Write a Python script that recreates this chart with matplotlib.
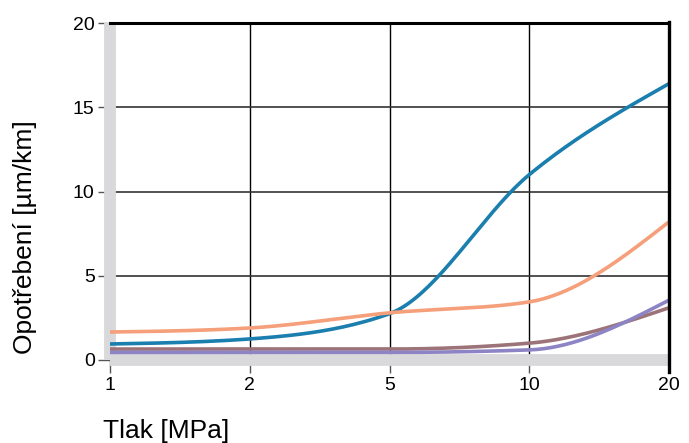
import numpy as np
import matplotlib.pyplot as plt

plt.rcParams['font.family'] = ['Liberation Sans', 'DejaVu Sans']

# data
tlak = ['1', '2', '5', '10', '20']
modra = [0.95, 1.25, 2.75, 11.0, 16.4]
oranzova = [1.66, 1.9, 2.8, 3.45, 8.2]
hneda = [0.65, 0.65, 0.65, 1.0, 3.1]
fialova = [0.45, 0.45, 0.45, 0.6, 3.55]

barvy = ['#1a7fae', '#f59f7b', '#9c7378', '#8c84c4']


def monotone_curve(xs, ys, n=40):
    # monotone cubic (like d3 curveMonotoneX), only used to draw a smooth line
    xs = np.asarray(xs, float)
    ys = np.asarray(ys, float)
    h = np.diff(xs)
    s = np.diff(ys) / h
    t = np.zeros(len(xs))
    for i in range(1, len(xs) - 1):
        p = (s[i - 1] * h[i] + s[i] * h[i - 1]) / (h[i - 1] + h[i])
        t[i] = (np.sign(s[i - 1]) + np.sign(s[i])) * min(abs(s[i - 1]), abs(s[i]), 0.5 * abs(p))
    t[0] = (3 * s[0] - t[1]) / 2
    t[-1] = (3 * s[-1] - t[-2]) / 2
    out_x, out_y = [], []
    for i in range(len(xs) - 1):
        u = np.linspace(0, 1, n)
        x0, x1 = xs[i], xs[i + 1]
        y0, y1 = ys[i], ys[i + 1]
        dx = (x1 - x0) / 3
        c0 = (x0, y0)
        c1 = (x0 + dx, y0 + dx * t[i])
        c2 = (x1 - dx, y1 - dx * t[i + 1])
        c3 = (x1, y1)
        bx = (1-u)**3*c0[0] + 3*(1-u)**2*u*c1[0] + 3*(1-u)*u**2*c2[0] + u**3*c3[0]
        by = (1-u)**3*c0[1] + 3*(1-u)**2*u*c1[1] + 3*(1-u)*u**2*c2[1] + u**3*c3[1]
        out_x.extend(bx)
        out_y.extend(by)
    return out_x, out_y


fig = plt.figure(figsize=(6.89, 4.43), dpi=100)
ax = fig.add_axes([110/689, 1 - 360/443, 559/689, 337/443])

pos = np.arange(len(tlak))
for serie, c in zip([modra, oranzova, hneda, fialova], barvy):
    cx, cy = monotone_curve(pos, serie)
    ax.plot(cx, cy, color=c, lw=2.6, zorder=4, clip_on=False, solid_capstyle='butt')

ax.set_xlim(0, 4)
ax.set_ylim(0, 20)
ax.set_xticks(pos)
ax.set_xticklabels(tlak)
ax.set_yticks([0, 5, 10, 15, 20])

for x in [1, 2, 3]:
    ax.axvline(x, color='black', lw=1.0, zorder=1)
for y in [5, 10, 15]:
    ax.axhline(y, color='#333333', lw=1.2, zorder=1)

for side in ['left', 'bottom']:
    ax.spines[side].set_color('#d9d9db')
    ax.spines[side].set_linewidth(8.5)
    ax.spines[side].set_capstyle('butt')
ax.spines['top'].set_color('black')
ax.spines['top'].set_linewidth(2.2)
ax.spines['right'].set_visible(False)
ax.axvline(4, ymin=-0.035, ymax=1.003, color='black', lw=2.4, clip_on=False, zorder=5)

ax.tick_params(axis='both', length=9, width=1, color='#555555', labelsize=14,
               labelcolor='black')
ax.tick_params(axis='y', pad=2)
ax.tick_params(axis='x', pad=3)

fig.text(25/689, 1 - 237/443, 'Opotřebení [µm/km]', fontsize=19, rotation=90,
         ha='center', va='center')
fig.text(103/689, 1 - 431/443, 'Tlak [MPa]', fontsize=19, ha='left', va='center')

fig.savefig('out.png', dpi=100)
